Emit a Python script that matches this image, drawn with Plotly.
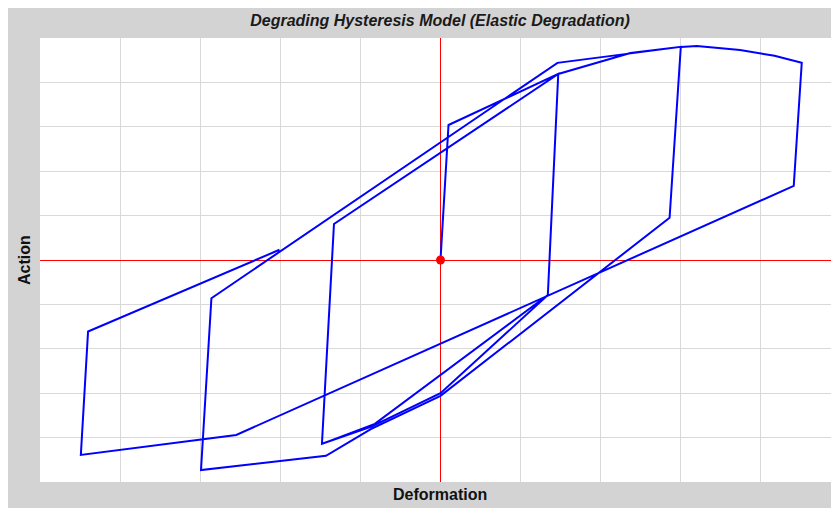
import plotly.graph_objects as go

# Path of the hysteresis response (deformation, action)
deformation = [0.00, 0.012, 0.10, 1.47, 1.34, -0.82, -1.48, -1.33, 1.47, 1.34, 0.00, -0.87, -1.48,
               -1.33, 1.47, 2.37, 3.00, 2.86, 0.00, -0.87, -1.43, -2.99, -2.86, 1.46, 2.37, 3.00,
               3.20, 3.74, 4.17, 4.51, 4.41, -2.55, -4.49, -4.40, -2.01]
action = [0.00, 0.36, 3.04, 4.19, -0.79, -3.69, -4.14, 0.81, 4.19, -0.79, -3.00, -3.76, -4.14,
          0.81, 4.19, 4.66, 4.80, 0.95, -3.06, -3.81, -4.41, -4.73, -0.86, 4.44, 4.66, 4.80,
          4.82, 4.73, 4.60, 4.44, 1.67, -3.94, -4.39, -1.61, 0.23]

title_text = "Degrading Hysteresis Model (Elastic Degradation)"
x_title = "Deformation"
y_title = "Action"

# figure is placed by the page at (8, 8); its right edge runs past the window
W, H = 835, 500
ml, mr, mt, mb = 32, 2, 30, 26
FONT = "Liberation Sans, Arial, sans-serif"

fig = go.Figure()
fig.add_trace(go.Scatter(x=deformation, y=action, mode="lines",
                         line=dict(color="#0000ff", width=2), hoverinfo="skip"))
fig.add_trace(go.Scatter(x=[0], y=[0], mode="markers",
                         marker=dict(color="#ff0000", size=9), hoverinfo="skip"))

pw = W - ml - mr
ph = H - mt - mb

def px_x(p):
    return (p - ml) / pw

def px_y(p):
    return (H - mb - p) / ph

fig.update_layout(
    width=W, height=H,
    margin=dict(l=ml, r=mr, t=mt, b=mb),
    paper_bgcolor="#d3d3d3",
    plot_bgcolor="#ffffff",
    showlegend=False,
    title=dict(text="<b><i>" + title_text + "</i></b>", x=px_x(432), xref="paper",
               y=1 - 12 / H, yref="container", yanchor="middle", xanchor="center",
               font=dict(family=FONT, size=16, color="#1a1a1a")),
    xaxis=dict(range=[-5, 5], dtick=1, tick0=0, showticklabels=False, ticks="",
               showgrid=True, gridcolor="#d9d9d9", gridwidth=1,
               zeroline=True, zerolinecolor="#ff0000", zerolinewidth=1,
               showline=False, fixedrange=True),
    yaxis=dict(range=[-5, 5], dtick=1, tick0=0, showticklabels=False, ticks="",
               showgrid=True, gridcolor="#d9d9d9", gridwidth=1,
               zeroline=True, zerolinecolor="#ff0000", zerolinewidth=1,
               showline=False, fixedrange=True),
    annotations=[
        dict(text="<b>" + x_title + "</b>", xref="paper", yref="paper", x=px_x(432), y=px_y(486),
             xanchor="center", yanchor="middle", showarrow=False,
             font=dict(family=FONT, size=16, color="#111111")),
        dict(text="<b>" + y_title + "</b>", xref="paper", yref="paper", x=px_x(16), y=0.5,
             xanchor="center", yanchor="middle", showarrow=False, textangle=-90,
             font=dict(family=FONT, size=16, color="#111111")),
    ],
)

fig.write_html("out.html")
